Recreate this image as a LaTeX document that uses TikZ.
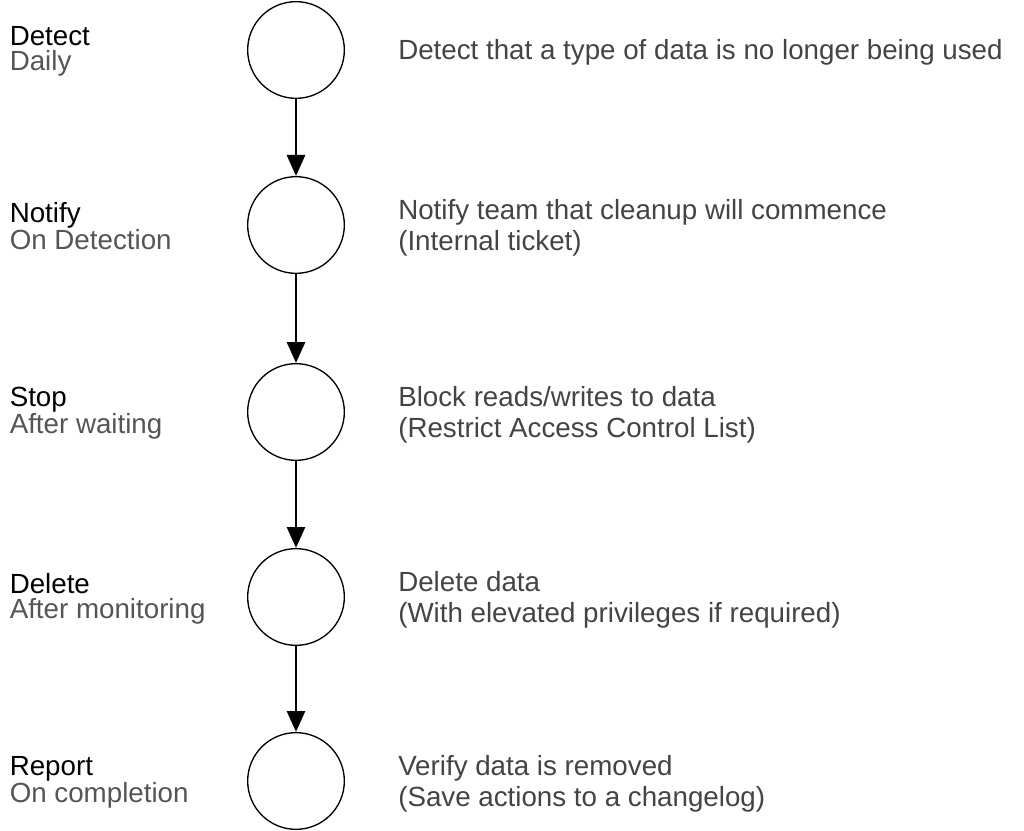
\documentclass[tikz,border=0pt]{standalone}
\usepackage{fontspec}
\setmainfont{Liberation Sans}
\usetikzlibrary{positioning, arrows.meta}

\definecolor{subgray}{HTML}{555555}
\definecolor{descgray}{HTML}{444444}

\begin{document}
\begin{tikzpicture}[
    x=0.75pt, y=-0.75pt,
    stepnode/.style={circle, draw, line width=1pt, minimum size=72.5pt, inner sep=0pt},
    steplabel/.style={anchor=west, align=left, inner sep=0pt, yshift=-1pt, font=\fontsize{20.8pt}{18.75pt}\selectfont},
    stepdesc/.style={align=left, inner sep=0pt, text=descgray, yshift=-1.9pt, font=\fontsize{20.8pt}{23.25pt}\selectfont},
    flow/.style={line width=2.2pt, -{Triangle[length=15.75pt, width=13.5pt]}}
]
\path[use as bounding box, fill=white] (0,0) rectangle (1024,831);

% Steps
\node[stepnode] (d1) at (296,50) {};
\node[stepnode, below=57.75pt of d1] (d2) {};
\node[stepnode, below=66.75pt of d2] (d3) {};
\node[stepnode, below=65.25pt of d3] (d4) {};
\node[stepnode, below=64.5pt of d4] (d5) {};

% Step names
\coordinate (lx) at (9.5,0);
\node[steplabel] (l1) at (lx |- d1) {Detect\\\textcolor{subgray}{Daily}};
\node[steplabel] (l2) at (lx |- d2) {Notify\\\textcolor{subgray}{On Detection}};
\node[steplabel] (l3) at (lx |- d3) {Stop\\\textcolor{subgray}{After waiting}};
\node[steplabel] (l4) at (lx |- d4) {Delete\\\textcolor{subgray}{After monitoring}};
\node[steplabel] (l5) at (lx |- d5) {Report\\\textcolor{subgray}{On completion}};

% Descriptions
\node[stepdesc, right=39.75pt of d1] (t1) {Detect that a type of data is no longer being used};
\node[stepdesc, right=39.75pt of d2] (t2) {Notify team that cleanup will commence\\(Internal ticket)};
\node[stepdesc, right=39.75pt of d3] (t3) {Block reads/writes to data\\(Restrict Access Control List)};
\node[stepdesc, right=39.75pt of d4] (t4) {Delete data\\(With elevated privileges if required)};
\node[stepdesc, right=39.75pt of d5] (t5) {Verify data is removed\\(Save actions to a changelog)};

% Edges
\draw[flow] (d1) -- (d2);
\draw[flow] (d2) -- (d3);
\draw[flow] (d3) -- (d4);
\draw[flow] (d4) -- (d5);

\end{tikzpicture}
\end{document}
